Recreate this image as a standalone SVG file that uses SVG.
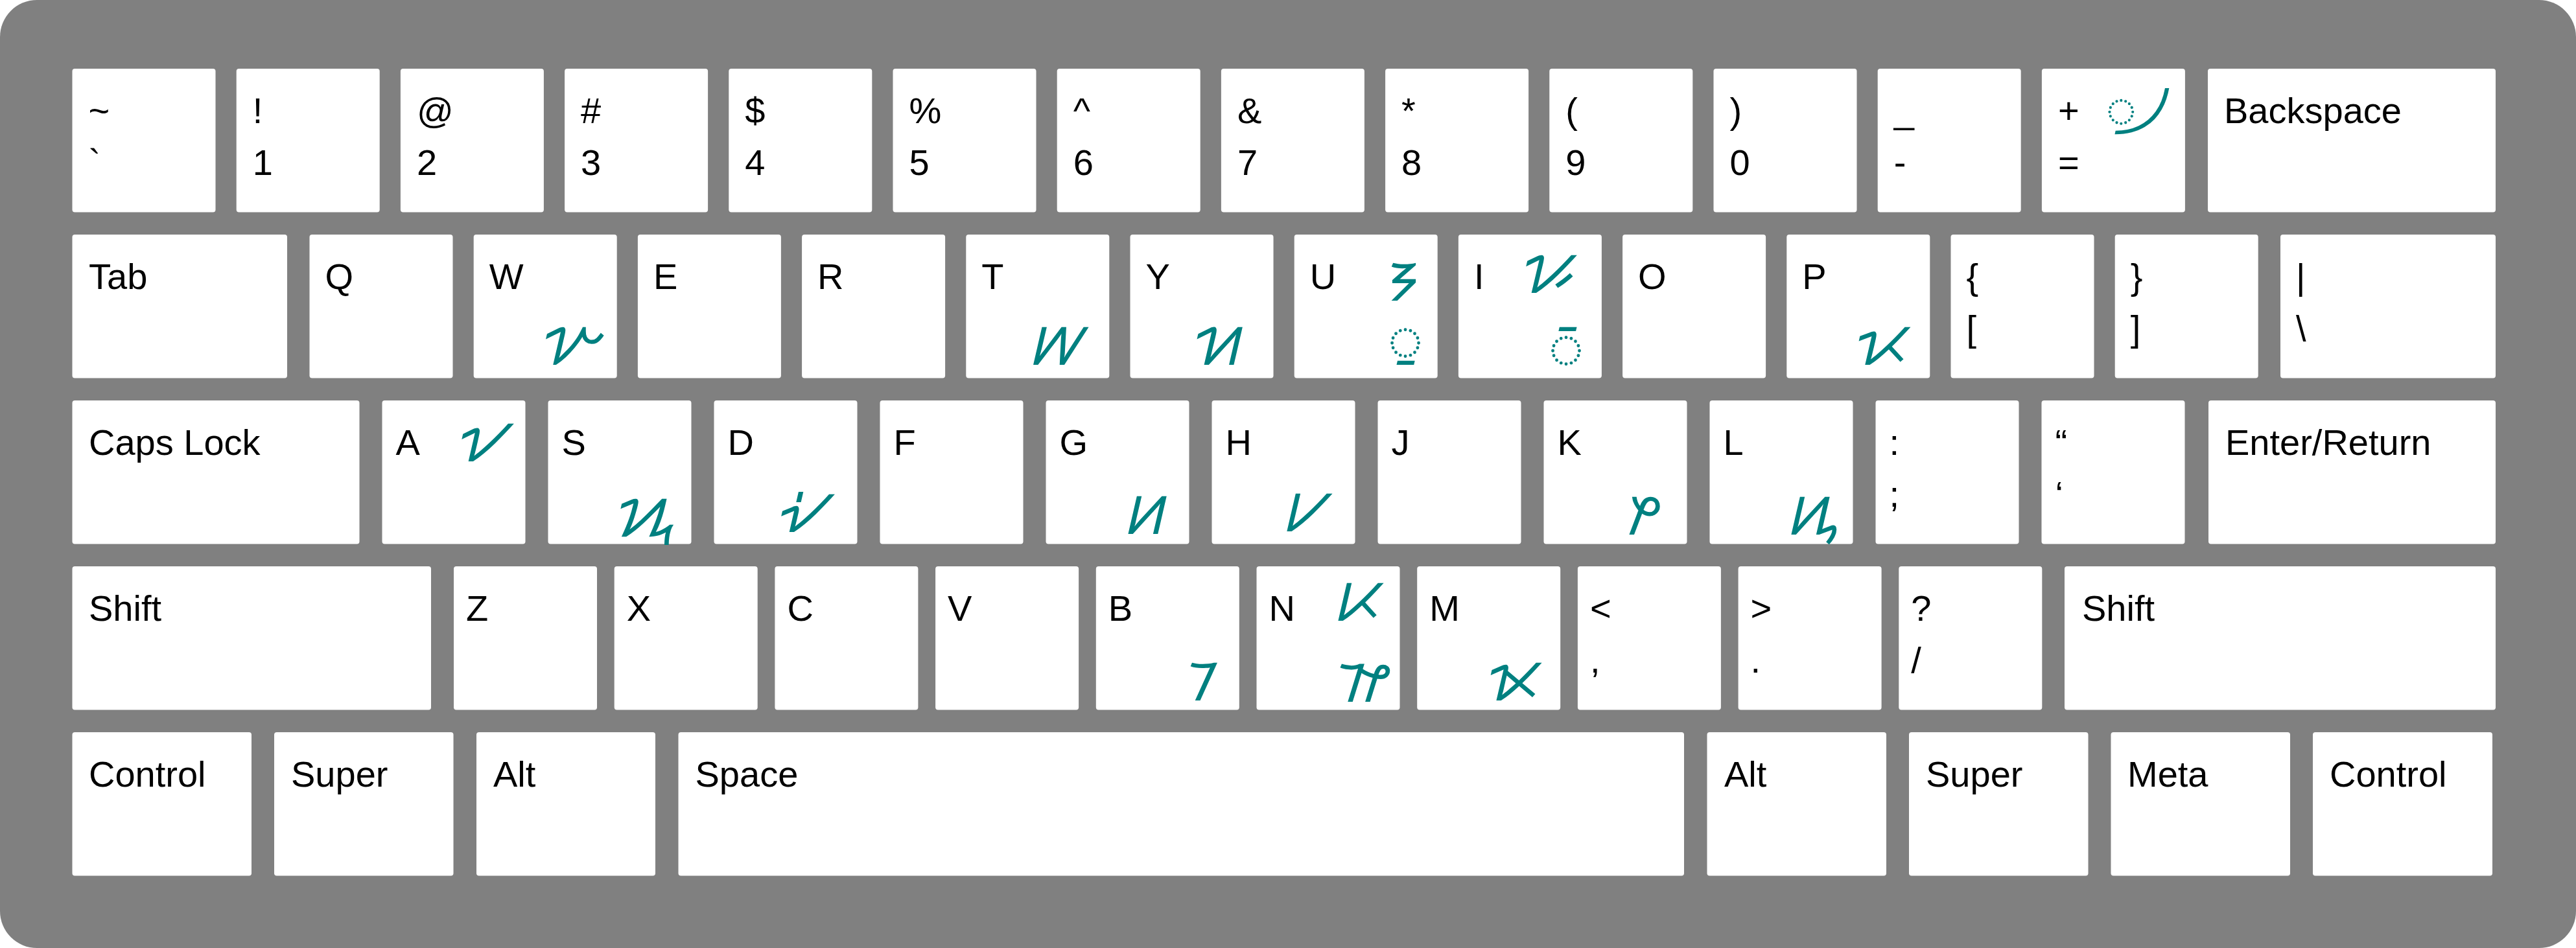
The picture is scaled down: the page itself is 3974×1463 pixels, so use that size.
<svg xmlns="http://www.w3.org/2000/svg" width="3974" height="1463" viewBox="0 0 3974 1463">
<style>
.key{fill:#ffffff}
.lbl{font-family:'Liberation Sans',Arial,sans-serif;font-size:56px;fill:#000000}
.hn{font-family:'Noto Sans Hanunoo','Noto Sans','DejaVu Sans',sans-serif;font-size:92px;fill:#008080;text-anchor:middle}
.hs{font-family:'Noto Sans Hanunoo','Noto Sans','DejaVu Sans',sans-serif;font-size:80px;fill:#008080;text-anchor:middle}
</style>
<rect x="0" y="0" width="3974" height="1463" fill="#ffffff"/>
<rect id="board" x="0" y="0" width="3974" height="1463" rx="57" ry="57" fill="#808080"/>
<g id="row1">
<g id="k-tilde"><rect class="key" x="111.5" y="106" width="221" height="221.5" rx="4"/><text class="lbl" x="136.5" y="190">~</text><text class="lbl" x="136.5" y="270">`</text></g>
<g id="k-1"><rect class="key" x="364.7" y="106" width="221" height="221.5" rx="4"/><text class="lbl" x="389.7" y="190">!</text><text class="lbl" x="389.7" y="270">1</text></g>
<g id="k-2"><rect class="key" x="617.9" y="106" width="221" height="221.5" rx="4"/><text class="lbl" x="642.9" y="190">@</text><text class="lbl" x="642.9" y="270">2</text></g>
<g id="k-3"><rect class="key" x="871.1" y="106" width="221" height="221.5" rx="4"/><text class="lbl" x="896.1" y="190">#</text><text class="lbl" x="896.1" y="270">3</text></g>
<g id="k-4"><rect class="key" x="1124.3" y="106" width="221" height="221.5" rx="4"/><text class="lbl" x="1149.3" y="190">$</text><text class="lbl" x="1149.3" y="270">4</text></g>
<g id="k-5"><rect class="key" x="1377.5" y="106" width="221" height="221.5" rx="4"/><text class="lbl" x="1402.5" y="190">%</text><text class="lbl" x="1402.5" y="270">5</text></g>
<g id="k-6"><rect class="key" x="1630.7" y="106" width="221" height="221.5" rx="4"/><text class="lbl" x="1655.7" y="190">^</text><text class="lbl" x="1655.7" y="270">6</text></g>
<g id="k-7"><rect class="key" x="1883.9" y="106" width="221" height="221.5" rx="4"/><text class="lbl" x="1908.9" y="190">&amp;</text><text class="lbl" x="1908.9" y="270">7</text></g>
<g id="k-8"><rect class="key" x="2137.1" y="106" width="221" height="221.5" rx="4"/><text class="lbl" x="2162.1" y="190">*</text><text class="lbl" x="2162.1" y="270">8</text></g>
<g id="k-9"><rect class="key" x="2390.3" y="106" width="221" height="221.5" rx="4"/><text class="lbl" x="2415.3" y="190">(</text><text class="lbl" x="2415.3" y="270">9</text></g>
<g id="k-0"><rect class="key" x="2643.5" y="106" width="221" height="221.5" rx="4"/><text class="lbl" x="2668.5" y="190">)</text><text class="lbl" x="2668.5" y="270">0</text></g>
<g id="k-minus"><rect class="key" x="2896.7" y="106" width="221" height="221.5" rx="4"/><text class="lbl" x="2921.7" y="190">_</text><text class="lbl" x="2921.7" y="270">-</text></g>
<g id="k-equal"><rect class="key" x="3149.9" y="106" width="221" height="221.5" rx="4"/><text class="lbl" x="3174.9" y="190">+</text><text class="lbl" x="3174.9" y="270">=</text><text class="hs" x="3300" y="196">◌᜴</text></g>
<g id="k-backspace"><rect class="key" x="3406" y="106" width="444" height="221.5" rx="4"/><text class="lbl" x="3431" y="190">Backspace</text></g>
</g>
<g id="row2">
<g id="k-tab"><rect class="key" x="111.5" y="362" width="331.5" height="221.5" rx="4"/><text class="lbl" x="137" y="446">Tab</text></g>
<g id="k-q"><rect class="key" x="477.5" y="362" width="221" height="221.5" rx="4"/><text class="lbl" x="501.5" y="446">Q</text></g>
<g id="k-w"><rect class="key" x="730.7" y="362" width="221" height="221.5" rx="4"/><text class="lbl" x="754.7" y="446">W</text><text class="hn" x="885" y="563">ᜯ</text></g>
<g id="k-e"><rect class="key" x="983.9" y="362" width="221" height="221.5" rx="4"/><text class="lbl" x="1007.9" y="446">E</text></g>
<g id="k-r"><rect class="key" x="1237.1" y="362" width="221" height="221.5" rx="4"/><text class="lbl" x="1261.1" y="446">R</text></g>
<g id="k-t"><rect class="key" x="1490.3" y="362" width="221" height="221.5" rx="4"/><text class="lbl" x="1514.3" y="446">T</text><text class="hn" x="1632" y="563">ᜦ</text></g>
<g id="k-y"><rect class="key" x="1743.5" y="362" width="221" height="221.5" rx="4"/><text class="lbl" x="1767.5" y="446">Y</text><text class="hn" x="1883" y="563">ᜬ</text></g>
<g id="k-u"><rect class="key" x="1996.7" y="362" width="221" height="221.5" rx="4"/><text class="lbl" x="2020.7" y="446">U</text><text class="hn" x="2160" y="464">ᜢ</text><text class="hn" x="2168" y="556">◌ᜳ</text></g>
<g id="k-i"><rect class="key" x="2249.9" y="362" width="221" height="221.5" rx="4"/><text class="lbl" x="2273.9" y="446">I</text><text class="hn" x="2390" y="452">ᜡ</text><text class="hn" x="2416" y="568">◌ᜲ</text></g>
<g id="k-o"><rect class="key" x="2503.1" y="362" width="221" height="221.5" rx="4"/><text class="lbl" x="2527.1" y="446">O</text></g>
<g id="k-p"><rect class="key" x="2756.3" y="362" width="221" height="221.5" rx="4"/><text class="lbl" x="2780.3" y="446">P</text><text class="hn" x="2905" y="563">ᜩ</text></g>
<g id="k-lbrace"><rect class="key" x="3009.5" y="362" width="221" height="221.5" rx="4"/><text class="lbl" x="3033.5" y="446">{</text><text class="lbl" x="3033.5" y="526">[</text></g>
<g id="k-rbrace"><rect class="key" x="3262.7" y="362" width="221" height="221.5" rx="4"/><text class="lbl" x="3286.7" y="446">}</text><text class="lbl" x="3286.7" y="526">]</text></g>
<g id="k-pipe"><rect class="key" x="3518" y="362" width="332" height="221.5" rx="4"/><text class="lbl" x="3542" y="446">|</text><text class="lbl" x="3542" y="526">\</text></g>
</g>
<g id="row3">
<g id="k-caps"><rect class="key" x="111.5" y="618" width="443" height="221.5" rx="4"/><text class="lbl" x="137" y="702">Caps Lock</text></g>
<g id="k-a"><rect class="key" x="589.5" y="618" width="221" height="221.5" rx="4"/><text class="lbl" x="610.5" y="702">A</text><text class="hn" x="750" y="712">ᜠ</text></g>
<g id="k-s"><rect class="key" x="845.5" y="618" width="221" height="221.5" rx="4"/><text class="lbl" x="866.5" y="702">S</text><text class="hn" x="997" y="828">ᜰ</text></g>
<g id="k-d"><rect class="key" x="1101.5" y="618" width="221" height="221.5" rx="4"/><text class="lbl" x="1122.5" y="702">D</text><text class="hn" x="1245" y="821">ᜧ</text></g>
<g id="k-f"><rect class="key" x="1357.5" y="618" width="221" height="221.5" rx="4"/><text class="lbl" x="1378.5" y="702">F</text></g>
<g id="k-g"><rect class="key" x="1613.5" y="618" width="221" height="221.5" rx="4"/><text class="lbl" x="1634.5" y="702">G</text><text class="hn" x="1770" y="824">ᜤ</text></g>
<g id="k-h"><rect class="key" x="1869.5" y="618" width="221" height="221.5" rx="4"/><text class="lbl" x="1890.5" y="702">H</text><text class="hn" x="2016" y="820">ᜱ</text></g>
<g id="k-j"><rect class="key" x="2125.5" y="618" width="221" height="221.5" rx="4"/><text class="lbl" x="2146.5" y="702">J</text></g>
<g id="k-k"><rect class="key" x="2381.5" y="618" width="221" height="221.5" rx="4"/><text class="lbl" x="2402.5" y="702">K</text><text class="hn" x="2535" y="825">ᜣ</text></g>
<g id="k-l"><rect class="key" x="2637.5" y="618" width="221" height="221.5" rx="4"/><text class="lbl" x="2658.5" y="702">L</text><text class="hn" x="2798" y="825">ᜮ</text></g>
<g id="k-semicolon"><rect class="key" x="2893.5" y="618" width="221" height="221.5" rx="4"/><text class="lbl" x="2914.5" y="702">:</text><text class="lbl" x="2914.5" y="782">;</text></g>
<g id="k-quote"><rect class="key" x="3149.5" y="618" width="221" height="221.5" rx="4"/><text class="lbl" x="3170.5" y="702">“</text><text class="lbl" x="3170.5" y="782">‘</text></g>
<g id="k-enter"><rect class="key" x="3407" y="618" width="443" height="221.5" rx="4"/><text class="lbl" x="3433" y="702">Enter/Return</text></g>
</g>
<g id="row4">
<g id="k-lshift"><rect class="key" x="111.5" y="874" width="553.5" height="221.5" rx="4"/><text class="lbl" x="137" y="958">Shift</text></g>
<g id="k-z"><rect class="key" x="700" y="874" width="221" height="221.5" rx="4"/><text class="lbl" x="719" y="958">Z</text></g>
<g id="k-x"><rect class="key" x="947.7" y="874" width="221" height="221.5" rx="4"/><text class="lbl" x="966.7" y="958">X</text></g>
<g id="k-c"><rect class="key" x="1195.4" y="874" width="221" height="221.5" rx="4"/><text class="lbl" x="1214.4" y="958">C</text></g>
<g id="k-v"><rect class="key" x="1443.1" y="874" width="221" height="221.5" rx="4"/><text class="lbl" x="1462.1" y="958">V</text></g>
<g id="k-b"><rect class="key" x="1690.8" y="874" width="221" height="221.5" rx="4"/><text class="lbl" x="1709.8" y="958">B</text><text class="hn" x="1853" y="1081">ᜪ</text></g>
<g id="k-n"><rect class="key" x="1938.5" y="874" width="221" height="221.5" rx="4"/><text class="lbl" x="1957.5" y="958">N</text><text class="hn" x="2095" y="958">ᜥ</text><text class="hn" x="2105" y="1083">ᜨ</text></g>
<g id="k-m"><rect class="key" x="2186.2" y="874" width="221" height="221.5" rx="4"/><text class="lbl" x="2205.2" y="958">M</text><text class="hn" x="2336" y="1081">ᜫ</text></g>
<g id="k-comma"><rect class="key" x="2433.9" y="874" width="221" height="221.5" rx="4"/><text class="lbl" x="2452.9" y="958">&lt;</text><text class="lbl" x="2452.9" y="1038">,</text></g>
<g id="k-period"><rect class="key" x="2681.6" y="874" width="221" height="221.5" rx="4"/><text class="lbl" x="2700.6" y="958">&gt;</text><text class="lbl" x="2700.6" y="1038">.</text></g>
<g id="k-slash"><rect class="key" x="2929.3" y="874" width="221" height="221.5" rx="4"/><text class="lbl" x="2948.3" y="958">?</text><text class="lbl" x="2948.3" y="1038">/</text></g>
<g id="k-rshift"><rect class="key" x="3185" y="874" width="665" height="221.5" rx="4"/><text class="lbl" x="3212" y="958">Shift</text></g>
</g>
<g id="row5">
<g id="k-lctrl"><rect class="key" x="111.5" y="1130" width="276.5" height="221.5" rx="4"/><text class="lbl" x="137" y="1214">Control</text></g>
<g id="k-lsuper"><rect class="key" x="423" y="1130" width="276.5" height="221.5" rx="4"/><text class="lbl" x="449" y="1214">Super</text></g>
<g id="k-lalt"><rect class="key" x="735" y="1130" width="276" height="221.5" rx="4"/><text class="lbl" x="761" y="1214">Alt</text></g>
<g id="k-space"><rect class="key" x="1046.5" y="1130" width="1551.5" height="221.5" rx="4"/><text class="lbl" x="1072.5" y="1214">Space</text></g>
<g id="k-ralt"><rect class="key" x="2633.5" y="1130" width="276.5" height="221.5" rx="4"/><text class="lbl" x="2660" y="1214">Alt</text></g>
<g id="k-rsuper"><rect class="key" x="2945" y="1130" width="276.5" height="221.5" rx="4"/><text class="lbl" x="2971" y="1214">Super</text></g>
<g id="k-meta"><rect class="key" x="3256.5" y="1130" width="276.5" height="221.5" rx="4"/><text class="lbl" x="3282" y="1214">Meta</text></g>
<g id="k-rctrl"><rect class="key" x="3568" y="1130" width="277" height="221.5" rx="4"/><text class="lbl" x="3594" y="1214">Control</text></g>
</g>
<g id="connectors"/>
</svg>
